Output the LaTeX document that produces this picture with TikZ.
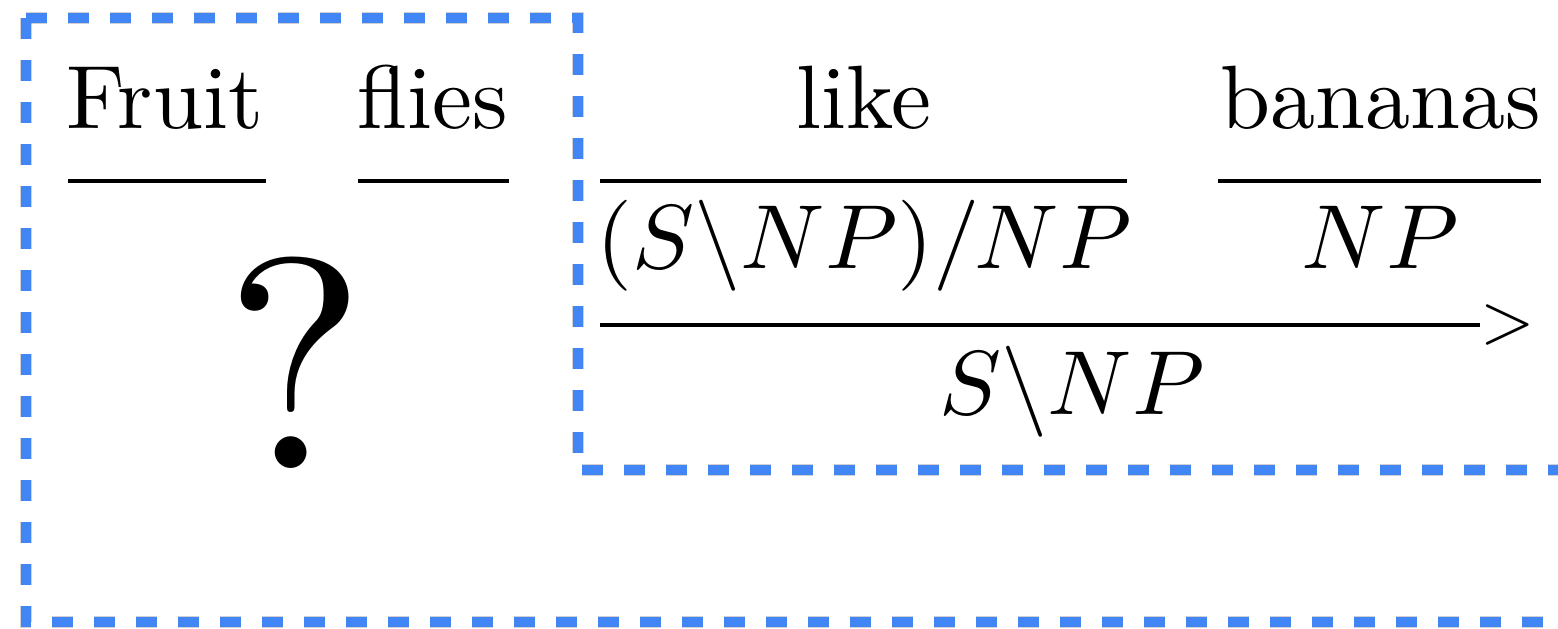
\documentclass[tikz,border=0pt]{standalone}
\usepackage{graphicx}
\definecolor{boxblue}{RGB}{66,133,244}
\tikzset{
  txt/.style={inner sep=0pt, anchor=base},
  rule/.style={line width=4pt},
  dashbox/.style={boxblue, line width=9.5pt, dash pattern=on 21pt off 21pt},
  dashshadow/.style={black, opacity=0.18, line width=12pt, dash pattern=on 21pt off 21pt},
}
\newcommand\bigtext[1]{\scalebox{9}{#1}}
\newcommand\bigmath[1]{\scalebox{9.25}[9.1]{$#1$}}
\begin{document}
\begin{tikzpicture}[x=1pt,y=-1pt]
\useasboundingbox (0,0) rectangle (1558,629);
\clip (0,0) rectangle (1558,629);
% dashed region boundary
\coordinate (tl) at (26,18);
\coordinate (tr) at (578,18);
\coordinate (ic) at (578,470);
\coordinate (ie) at (1600,470);
\coordinate (bl) at (26,622);
\coordinate (be) at (1600,622);
\begin{scope}[shift={(2,4)}]
  \draw[dashshadow] (tl) -- (tr) -- (ic) -- (ie);
  \draw[dashshadow] (tl) -- (bl) -- (be);
\end{scope}
\draw[dashbox] (tl) -- (tr) -- (ic) -- (ie);
\draw[dashbox] (tl) -- (bl) -- (be);
% words
\node[txt] (fruit) at (165,128) {\bigtext{Fruit}};
\node[txt] (flies) at (433,128) {\bigtext{flies}};
\node[txt] (like) at (864,128) {\bigtext{like}};
\node[txt] (bananas) at (1381,128) {\bigtext{bananas}};
% lexical rules
\coordinate (r1a) at (68,181);   \coordinate (r1b) at (266,181);
\coordinate (r2a) at (358,181);  \coordinate (r2b) at (509,181);
\coordinate (r3a) at (600,181);  \coordinate (r3b) at (1127,181);
\coordinate (r4a) at (1218,181); \coordinate (r4b) at (1541,181);
\draw[rule] (r1a) -- (r1b);
\draw[rule] (r2a) -- (r2b);
\draw[rule] (r3a) -- (r3b);
\draw[rule] (r4a) -- (r4b);
% categories
\node[txt] (likecat) at (864,268) {\bigmath{(S\backslash NP)/NP}};
\node[txt] (bancat) at (1380,268) {\bigmath{NP}};
\node[txt] (q) at (295,468) {\scalebox{30}{?}};
% forward application
\coordinate (fa) at (600,325);
\node[inner sep=0pt, anchor=west] (gt) at (1480,325) {\scalebox{7}{$>$}};
\draw[rule] (fa) -- (gt.west);
\node[txt] (vp) at (1072,414) {\bigmath{S\backslash NP}};
\end{tikzpicture}
\end{document}
